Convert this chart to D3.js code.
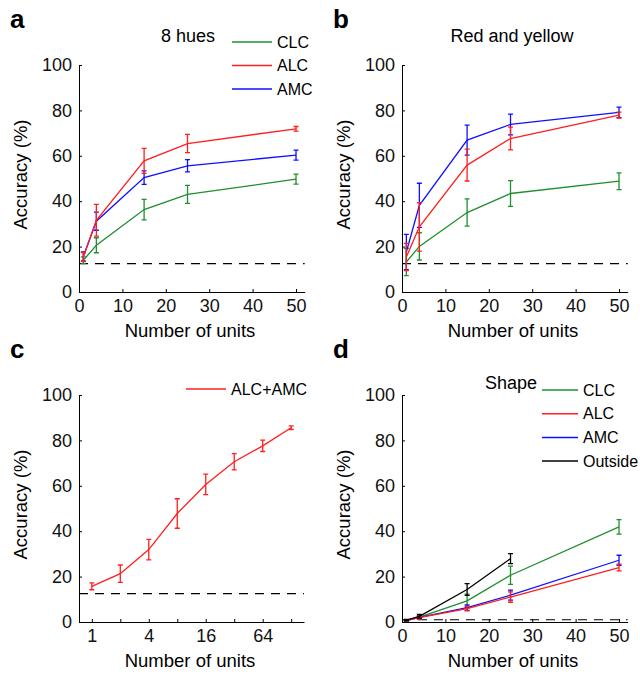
<!DOCTYPE html>
<html>
<head>
<meta charset="utf-8">
<script src="https://cdn.jsdelivr.net/npm/d3@7"></script>
<style>
  body { margin: 0; background: #fff; }
  svg { display: block; font-family: "Liberation Sans", Arial, sans-serif; }
</style>
</head>
<body>
<svg id="chart" width="640" height="674"></svg>
<script>
// x values
const unitsLin = [1, 4, 15, 25, 50];
const unitsLog = [1, 2, 4, 8, 16, 32, 64, 128];
const unitsOutside = [1, 4, 15, 25];

// a: 8 hues
const huesCLC = [14, 20.6, 36.3, 43, 49.7];
const huesCLCErr = [1.5, 3.3, 4.5, 4, 2.2];
const huesALC = [15.4, 31.6, 57.8, 65.4, 71.9];
const huesALCErr = [2, 7, 5.5, 4, 1];
const huesAMC = [15.7, 31.2, 50.4, 55.6, 60.3];
const huesAMCErr = [2, 4, 3, 2.7, 2.2];

// b: red and yellow
const ryCLC = [13.2, 20.1, 35, 43.4, 48.8];
const ryCLCErr = [6, 6, 6, 5.7, 3.7];
const ryALC = [15.4, 28.7, 55.9, 67.6, 77.9];
const ryALCErr = [6, 10.7, 7, 5, 1.3];
const ryAMC = [17.6, 38.2, 66.9, 73.8, 79.1];
const ryAMCErr = [7.8, 9.7, 6.6, 4.6, 2.3];

// c: ALC+AMC
const combo = [15.7, 21.3, 31.9, 47.8, 60.6, 70.6, 77.6, 85.6];
const comboErr = [1.5, 3.8, 4.5, 6.5, 4.5, 3.6, 2.5, 0.8];

// d: shape
const shapeCLC = [0.7, 2.2, 9.3, 20.6, 41.9];
const shapeCLCErr = [0.3, 0.8, 3, 4, 3.2];
const shapeALC = [0.7, 1.9, 5.9, 11, 24];
const shapeALCErr = [0.3, 0.6, 1, 2.3, 1.5];
const shapeAMC = [0.7, 2, 6.3, 11.8, 27.2];
const shapeAMCErr = [0.3, 0.6, 1.2, 2.2, 2.2];
const shapeOut = [0.8, 2.5, 14.3, 27.9];
const shapeOutErr = [0.3, 0.8, 2.6, 2.2];

const yTicks = [0, 20, 40, 60, 80, 100];
const linTicks = [0, 10, 20, 30, 40, 50];
const logLabels = [1, 4, 16, 64];

const GREEN = "#1f8f2f", RED = "#ff1f1f", BLUE = "#1010ff", BLACK = "#000";

const svg = d3.select("#chart");

function panel({ left, top, letter, x, xTicks, xFormat, series, chance, title, titleX }) {
  const bottom = top + 227;
  const y = d3.scaleLinear().domain([0, 100]).range([bottom, top]);
  const g = svg.append("g");

  // axes, ticks inside
  g.append("g")
      .attr("transform", `translate(0,${bottom})`)
      .call(d3.axisBottom(x).tickValues(xTicks).tickFormat(xFormat)
        .tickSize(-3).tickSizeOuter(0).tickPadding(7))
      .call(a => a.selectAll("text").attr("font-size", 18).attr("font-family", null).attr("fill", "#111"));
  g.append("g")
      .attr("transform", `translate(${left},0)`)
      .call(d3.axisLeft(y).tickValues(yTicks).tickSize(-3).tickSizeOuter(0).tickPadding(7))
      .call(a => a.selectAll("text").attr("font-size", 18).attr("font-family", null).attr("fill", "#111"));

  // chance level
  g.append("line")
      .attr("x1", x.range()[0]).attr("x2", x.range()[1])
      .attr("y1", y(chance)).attr("y2", y(chance))
      .attr("stroke", "#000").attr("stroke-width", 1.2)
      .attr("stroke-dasharray", "9,7");

  const line = d3.line().x(d => x(d[0])).y(d => y(d[1]));

  series.forEach(s => {
    const pts = s.xs.map((v, i) => [v, s.ys[i], s.err[i]]);
    const sg = g.append("g").attr("stroke", s.color).attr("fill", "none").attr("stroke-width", 1.3);
    sg.append("path").attr("d", line(pts));
    sg.selectAll("path.eb")
      .data(pts)
      .join("path")
        .attr("class", "eb")
        .attr("d", d => {
          const cx = x(d[0]), y0 = y(d[1] - d[2]), y1 = y(d[1] + d[2]);
          return `M${cx},${y0}V${y1}M${cx - 2.5},${y0}H${cx + 2.5}M${cx - 2.5},${y1}H${cx + 2.5}`;
        });
  });

  // labels
  svg.append("text")
      .attr("x", left - 69).attr("y", top - 37)
      .attr("font-size", 26).attr("font-weight", "bold")
      .text(letter);
  svg.append("text")
      .attr("transform", `translate(${left - 52},${(top + bottom) / 2 - 4}) rotate(-90)`)
      .attr("text-anchor", "middle").attr("font-size", 18.5)
      .text("Accuracy (%)");
  svg.append("text")
      .attr("x", left + 111).attr("y", bottom + 45)
      .attr("text-anchor", "middle").attr("font-size", 18.5)
      .text("Number of units");
  if (title) {
    svg.append("text")
        .attr("x", titleX).attr("y", top - 23)
        .attr("text-anchor", "middle").attr("font-size", 18)
        .text(title);
  }
  return g;
}

function legend(items, x0, y0, step, len) {
  const lg = svg.append("g");
  items.forEach((it, i) => {
    const yy = y0 + i * step;
    lg.append("line")
        .attr("x1", x0).attr("x2", x0 + len)
        .attr("y1", yy).attr("y2", yy)
        .attr("stroke", it.color).attr("stroke-width", 1.5);
    lg.append("text")
        .attr("x", x0 + len + 5).attr("y", yy)
        .attr("dy", "0.35em").attr("font-size", 16)
        .text(it.name);
  });
}

const xLinA = d3.scaleLinear().domain([0, 52]).range([79, 304.7]);
const xLinB = d3.scaleLinear().domain([0, 52]).range([402, 627.7]);
const xLog = d3.scaleLog().base(2).domain([Math.pow(2, -0.45), Math.pow(2, 7.45)]).range([79, 304]);
const xLinD = d3.scaleLinear().domain([0, 52]).range([402, 627.7]);

panel({
  left: 79, top: 65, letter: "a", x: xLinA, xTicks: linTicks, xFormat: d3.format("d"),
  chance: 12.5, title: "8 hues", titleX: 188,
  series: [
    { xs: unitsLin, ys: huesCLC, err: huesCLCErr, color: GREEN },
    { xs: unitsLin, ys: huesAMC, err: huesAMCErr, color: BLUE },
    { xs: unitsLin, ys: huesALC, err: huesALCErr, color: RED }
  ]
});
legend([{ name: "CLC", color: GREEN }, { name: "ALC", color: RED }, { name: "AMC", color: BLUE }], 232, 42, 23.5, 40);

panel({
  left: 402, top: 65, letter: "b", x: xLinB, xTicks: linTicks, xFormat: d3.format("d"),
  chance: 12.5, title: "Red and yellow", titleX: 512,
  series: [
    { xs: unitsLin, ys: ryCLC, err: ryCLCErr, color: GREEN },
    { xs: unitsLin, ys: ryAMC, err: ryAMCErr, color: BLUE },
    { xs: unitsLin, ys: ryALC, err: ryALCErr, color: RED }
  ]
});

panel({
  left: 79, top: 395, letter: "c", x: xLog, xTicks: unitsLog,
  xFormat: d => logLabels.includes(d) ? d : "",
  chance: 12.5,
  series: [{ xs: unitsLog, ys: combo, err: comboErr, color: RED }]
});
legend([{ name: "ALC+AMC", color: RED }], 186, 389, 24, 40);

panel({
  left: 402, top: 395, letter: "d", x: xLinD, xTicks: linTicks, xFormat: d3.format("d"),
  chance: 1,
  series: [
    { xs: unitsLin, ys: shapeCLC, err: shapeCLCErr, color: GREEN },
    { xs: unitsLin, ys: shapeAMC, err: shapeAMCErr, color: BLUE },
    { xs: unitsLin, ys: shapeALC, err: shapeALCErr, color: RED },
    { xs: unitsOutside, ys: shapeOut, err: shapeOutErr, color: BLACK }
  ]
});
svg.append("text")
    .attr("x", 485).attr("y", 383).attr("dy", "0.35em")
    .attr("font-size", 18).text("Shape");
legend([
  { name: "CLC", color: GREEN }, { name: "ALC", color: RED },
  { name: "AMC", color: BLUE }, { name: "Outside", color: BLACK }
], 542, 390, 23.7, 36);
</script>
</body>
</html>
